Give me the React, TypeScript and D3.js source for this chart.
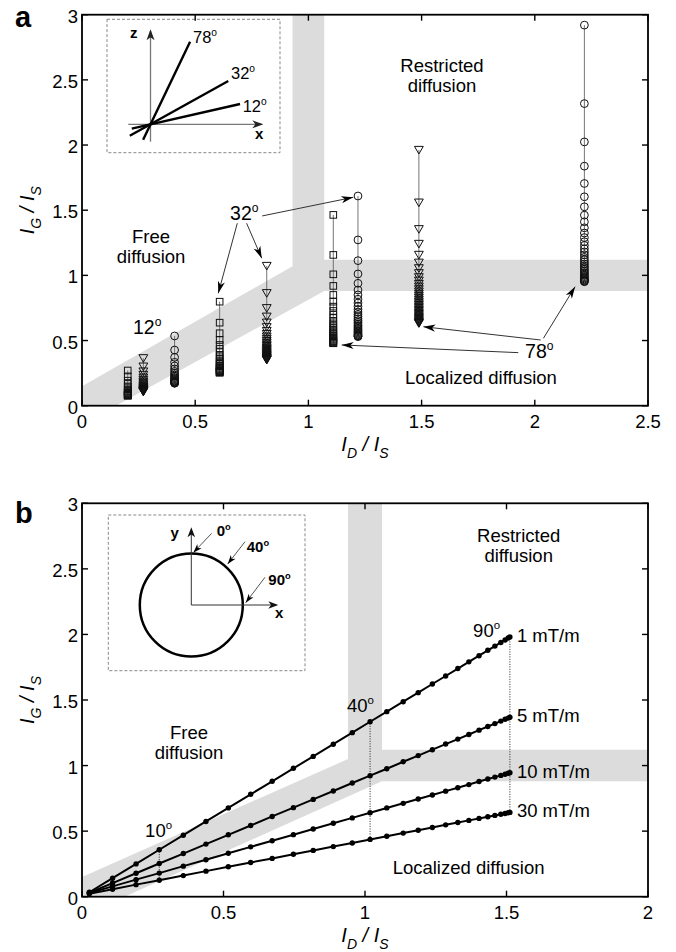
import React from 'react';
import * as d3 from 'd3';

const FONT = '"Liberation Sans", Arial, Helvetica, sans-serif';

// ---- shared ticks ----
const yTicks = [0, 0.5, 1, 1.5, 2, 2.5, 3];
const yTickLabels = ['0', '0.5', '1', '1.5', '2', '2.5', '3'];
const aTicksX = [0, 0.5, 1, 1.5, 2, 2.5];
const aTickLabelsX = ['0', '0.5', '1', '1.5', '2', '2.5'];
const bTicksX = [0, 0.5, 1, 1.5, 2];
const bTickLabelsX = ['0', '0.5', '1', '1.5', '2'];

// ---- panel a: columns of I_G/I_S values (top to bottom) at each I_D/I_S ----
const colX = [0.202, 0.271, 0.409, 0.608, 0.816, 1.11, 1.219, 1.488, 2.219];
const colMarker = ['square', 'triangle', 'circle', 'square', 'triangle', 'square', 'circle', 'triangle', 'circle'];
const col020 = [0.270, 0.225, 0.192, 0.167, 0.148, 0.133, 0.121, 0.112, 0.105, 0.099, 0.094, 0.090, 0.087, 0.084, 0.082, 0.080, 0.079, 0.078, 0.077];
const col027 = [0.364, 0.300, 0.262, 0.236, 0.215, 0.198, 0.184, 0.172, 0.162, 0.153, 0.145, 0.139, 0.133, 0.128, 0.124, 0.120, 0.117, 0.114, 0.112, 0.110, 0.108, 0.107];
const col041 = [0.535, 0.427, 0.371, 0.333, 0.305, 0.282, 0.263, 0.248, 0.235, 0.224, 0.215, 0.207, 0.200, 0.194, 0.189, 0.185, 0.181, 0.178, 0.176, 0.174, 0.172];
const col061 = [0.798, 0.637, 0.556, 0.504, 0.466, 0.436, 0.411, 0.390, 0.372, 0.356, 0.342, 0.330, 0.319, 0.309, 0.300, 0.292, 0.285, 0.279, 0.273, 0.268, 0.264, 0.260, 0.257, 0.255, 0.253];
const col082 = [1.072, 0.863, 0.748, 0.683, 0.637, 0.602, 0.573, 0.550, 0.530, 0.512, 0.496, 0.482, 0.469, 0.457, 0.446, 0.436, 0.427, 0.418, 0.410, 0.402, 0.395, 0.388, 0.382, 0.376, 0.370, 0.365, 0.360, 0.356, 0.353, 0.351];
const col111 = [1.464, 1.157, 1.008, 0.919, 0.850, 0.798, 0.760, 0.727, 0.698, 0.673, 0.651, 0.632, 0.615, 0.600, 0.586, 0.573, 0.561, 0.550, 0.540, 0.531, 0.522, 0.514, 0.507, 0.500, 0.494, 0.489, 0.484, 0.481, 0.479];
const col122 = [1.609, 1.272, 1.113, 1.011, 0.939, 0.888, 0.850, 0.817, 0.788, 0.762, 0.739, 0.719, 0.700, 0.683, 0.667, 0.653, 0.640, 0.627, 0.615, 0.604, 0.594, 0.584, 0.575, 0.566, 0.558, 0.550, 0.543, 0.537, 0.533, 0.530];
const col149 = [1.962, 1.558, 1.354, 1.241, 1.157, 1.097, 1.054, 1.016, 0.985, 0.959, 0.934, 0.913, 0.893, 0.875, 0.858, 0.842, 0.827, 0.812, 0.798, 0.785, 0.772, 0.760, 0.748, 0.736, 0.725, 0.714, 0.703, 0.693, 0.683, 0.673, 0.664, 0.655, 0.647, 0.640, 0.634, 0.632];
const col222 = [2.920, 2.318, 2.024, 1.838, 1.705, 1.603, 1.526, 1.462, 1.411, 1.365, 1.325, 1.290, 1.258, 1.230, 1.204, 1.180, 1.158, 1.138, 1.120, 1.103, 1.087, 1.072, 1.058, 1.045, 1.033, 1.021, 1.010, 1.000, 0.990, 0.981, 0.973, 0.966, 0.960, 0.955, 0.951];
const colValues = [col020, col027, col041, col061, col082, col111, col122, col149, col222];

// shaded boundary regions (data units)
const bandA = [[0, 0], [0, 0.15], [0.93, 1.07], [0.93, 3], [1.07, 3], [1.07, 1.12], [2.5, 1.12], [2.5, 0.88], [1.07, 0.88], [0.15, 0]];
const bandB = [[0, 0], [0, 0.15], [0.94, 1.05], [0.94, 3], [1.06, 3], [1.06, 1.12], [2, 1.12], [2, 0.88], [1.06, 0.88], [0.15, 0]];

// annotation arrows in panel a, [from, to] in data units
const arrowsA = [
  [[0.686, 1.400], [0.602, 0.863]],
  [[0.727, 1.400], [0.794, 1.131]],
  [[0.796, 1.456], [1.198, 1.599]],
  [[1.927, 0.407], [1.147, 0.466]],
  [[2.026, 0.504], [1.508, 0.606]],
  [[2.038, 0.517], [2.178, 0.913]],
];

// ---- panel b: I_D/I_S shared by all gradients, I_G/I_S per gradient ----
const bX = [0.026, 0.108, 0.191, 0.273, 0.358, 0.438, 0.517, 0.596, 0.672, 0.747, 0.817, 0.888, 0.955, 1.018, 1.077, 1.135, 1.188, 1.238, 1.285, 1.328, 1.367, 1.403, 1.434, 1.459, 1.480, 1.495, 1.506, 1.512];
const b1mT = [0.034, 0.141, 0.250, 0.358, 0.469, 0.574, 0.677, 0.781, 0.880, 0.979, 1.070, 1.163, 1.251, 1.334, 1.411, 1.487, 1.556, 1.622, 1.683, 1.740, 1.791, 1.838, 1.879, 1.911, 1.939, 1.958, 1.973, 1.981];
const b5mT = [0.030, 0.104, 0.179, 0.253, 0.329, 0.401, 0.472, 0.543, 0.612, 0.679, 0.742, 0.806, 0.867, 0.923, 0.976, 1.029, 1.076, 1.121, 1.164, 1.202, 1.237, 1.270, 1.298, 1.320, 1.339, 1.353, 1.362, 1.368];
const b10mT = [0.028, 0.079, 0.130, 0.180, 0.233, 0.282, 0.331, 0.380, 0.427, 0.473, 0.516, 0.560, 0.601, 0.640, 0.677, 0.712, 0.745, 0.776, 0.805, 0.831, 0.855, 0.878, 0.897, 0.912, 0.925, 0.934, 0.941, 0.945];
const b30mT = [0.023, 0.057, 0.092, 0.126, 0.161, 0.195, 0.228, 0.261, 0.292, 0.324, 0.353, 0.382, 0.410, 0.437, 0.461, 0.485, 0.507, 0.528, 0.548, 0.566, 0.582, 0.597, 0.610, 0.620, 0.629, 0.635, 0.640, 0.643];
const bSeries = [b1mT, b5mT, b10mT, b30mT];
const bSeriesNames = ['1 mT/m', '5 mT/m', '10 mT/m', '30 mT/m'];
const angleIdx = [3, 13, 27];

const xA = d3.scaleLinear().domain([0, 2.5]).range([82, 648]);
const yA = d3.scaleLinear().domain([0, 3]).range([405.7, 14.7]);
const xB = d3.scaleLinear().domain([0, 2]).range([82, 648]);
const yB = d3.scaleLinear().domain([0, 3]).range([896.7, 503.3]);

function arrowHead(fx, fy, tx, ty, L = 11, w = 3.5) {
  const d = Math.hypot(tx - fx, ty - fy);
  const ux = (tx - fx) / d, uy = (ty - fy) / d;
  const nx = -uy, ny = ux;
  const bx = tx - L * ux, by = ty - L * uy;
  const mx = tx - 0.72 * L * ux, my = ty - 0.72 * L * uy;
  return `M${tx},${ty}L${bx + w * nx},${by + w * ny}L${mx},${my}L${bx - w * nx},${by - w * ny}Z`;
}

function Arrow({ f, t, L = 11, w = 3.5, color = '#333', width = 1 }) {
  return (
    <g>
      <line x1={f[0]} y1={f[1]} x2={t[0]} y2={t[1]} stroke={color} strokeWidth={width} />
      <path d={arrowHead(f[0], f[1], t[0], t[1], L, w)} fill="#000" />
    </g>
  );
}

function Deg({ x, y, n, size = 18.5, bold = false }) {
  return (
    <text x={x} y={y} fontSize={size} fontWeight={bold ? 'bold' : 'normal'}>
      {n}
      <tspan dy={-size * 0.42} fontSize={size * 0.62}>o</tspan>
    </text>
  );
}

function Marker({ type, cx, cy }) {
  const st = { fill: 'none', stroke: '#111', strokeWidth: 1 };
  if (type === 'circle') return <circle cx={cx} cy={cy} r={3.9} {...st} />;
  if (type === 'square') return <rect x={cx - 3.3} y={cy - 3.3} width={6.6} height={6.6} {...st} />;
  return <path d={`M${cx - 4.4},${cy - 3.6}L${cx + 4.4},${cy - 3.6}L${cx},${cy + 4}Z`} {...st} />;
}

function Frame({ x, y, xTicks, xLabels }) {
  const [x0, x1] = x.range();
  const [y0, y1] = y.range();
  return (
    <g fontSize={18.5}>
      <rect x={x0} y={y1} width={x1 - x0} height={y0 - y1} fill="none" stroke="#000" strokeWidth={1.8} />
      {xTicks.map((t, i) => (
        <g key={'x' + i}>
          <line x1={x(t)} x2={x(t)} y1={y0} y2={y0 - 6} stroke="#000" strokeWidth={1.4} />
          <line x1={x(t)} x2={x(t)} y1={y1} y2={y1 + 6} stroke="#000" strokeWidth={1.4} />
          <text x={x(t)} y={y0 + 22} textAnchor="middle">{xLabels[i]}</text>
        </g>
      ))}
      {yTicks.map((t, i) => (
        <g key={'y' + i}>
          <line x1={x0} x2={x0 + 6} y1={y(t)} y2={y(t)} stroke="#000" strokeWidth={1.4} />
          <line x1={x1} x2={x1 - 6} y1={y(t)} y2={y(t)} stroke="#000" strokeWidth={1.4} />
          <text x={x0 - 4} y={y(t) + 8} textAnchor="end">{yTickLabels[i]}</text>
        </g>
      ))}
    </g>
  );
}

function Titles({ x, y, panel, labelY }) {
  const [x0, x1] = x.range();
  const [y0, y1] = y.range();
  const cy = (y0 + y1) / 2;
  return (
    <g style={{ whiteSpace: 'pre' }}>
      <text x={15} y={labelY} fontSize={29} fontWeight="bold">{panel}</text>
      <text x={(x0 + x1) / 2} y={y0 + 45} textAnchor="middle" fontSize={20} fontStyle="italic">
        I<tspan dy={7} fontSize={14}>D</tspan><tspan dy={-7}> / I</tspan><tspan dy={7} fontSize={14}>S</tspan>
      </text>
      <text transform={`translate(34,${cy}) rotate(-90)`} textAnchor="middle" fontSize={20} fontStyle="italic">
        I<tspan dy={7} fontSize={14}>G</tspan><tspan dy={-7}> / I</tspan><tspan dy={7} fontSize={14}>S</tspan>
      </text>
    </g>
  );
}

function TwoLines({ x, y, a, b }) {
  return (
    <text x={x} y={y} textAnchor="middle" fontSize={18.5}>
      <tspan x={x}>{a}</tspan>
      <tspan x={x} dy={20.5}>{b}</tspan>
    </text>
  );
}

function InsetA() {
  const o = [150.5, 124.3];
  const rays = [
    { a: 64.4, len: 91.6, tail: 17.1 },
    { a: 29.1, len: 89, tail: 23.7 },
    { a: 12.8, len: 91.8, tail: 19.2 },
  ];
  return (
    <g>
      <rect x={107} y={19.3} width={173} height={133.4} fill="#fff" stroke="#888" strokeWidth={1} strokeDasharray="3,2" />
      <line x1={128.3} y1={o[1]} x2={262} y2={o[1]} stroke="#777" strokeWidth={1.3} />
      <path d={arrowHead(128.3, o[1], 263.3, o[1], 11, 4)} fill="#222" />
      <line x1={o[0]} y1={141.7} x2={o[0]} y2={31} stroke="#777" strokeWidth={1.3} />
      <path d={arrowHead(o[0], 141.7, o[0], 29.3, 11, 4)} fill="#222" />
      {rays.map((r, i) => {
        const c = Math.cos((r.a * Math.PI) / 180), s = Math.sin((r.a * Math.PI) / 180);
        return <line key={i} x1={o[0] - r.tail * c} y1={o[1] + r.tail * s} x2={o[0] + r.len * c} y2={o[1] - r.len * s} stroke="#000" strokeWidth={2.4} />;
      })}
      <text x={130} y={38} fontSize={15} fontWeight="bold">z</text>
      <text x={255} y={139.3} fontSize={15} fontWeight="bold">x</text>
      <Deg x={193} y={43} n="78" size={16.5} />
      <Deg x={231} y={79} n="32" size={16.5} />
      <Deg x={242.7} y={111.7} n="12" size={16.5} />
    </g>
  );
}

function InsetB() {
  const c = [191.3, 605];
  return (
    <g>
      <rect x={108.3} y={515} width={196.7} height={155.7} fill="#fff" stroke="#888" strokeWidth={1} strokeDasharray="3,2" />
      <circle cx={c[0]} cy={c[1]} r={51.5} fill="none" stroke="#000" strokeWidth={2.5} />
      <line x1={c[0]} y1={c[1]} x2={c[0]} y2={530} stroke="#333" strokeWidth={1} />
      <path d={arrowHead(c[0], c[1], c[0], 527.3, 10, 3.8)} fill="#111" />
      <line x1={c[0]} y1={c[1]} x2={275} y2={c[1]} stroke="#333" strokeWidth={1} />
      <path d={arrowHead(c[0], c[1], 278.3, c[1], 10, 3.8)} fill="#111" />
      <Arrow f={[211.7, 533.3]} t={[193.3, 552.7]} L={9} w={3} color="#555" />
      <Arrow f={[245, 541.7]} t={[227.7, 564]} L={9} w={3} color="#555" />
      <Arrow f={[265, 577.3]} t={[245.7, 602.7]} L={9} w={3} color="#555" />
      <text x={170.5} y={538} fontSize={15} fontWeight="bold">y</text>
      <text x={275} y={618} fontSize={15} fontWeight="bold">x</text>
      <Deg x={216.7} y={536} n="0" size={15} bold />
      <Deg x={246.7} y={552} n="40" size={15} bold />
      <Deg x={268.3} y={585} n="90" size={15} bold />
    </g>
  );
}

function PanelA() {
  const band = d3.line().x((d) => xA(d[0])).y((d) => yA(d[1]))(bandA) + 'Z';
  return (
    <g>
      <path d={band} fill="#dcdcdc" />
      {colX.map((cx, i) => {
        const vals = colValues[i];
        return (
          <g key={i}>
            <line x1={xA(cx)} x2={xA(cx)} y1={yA(d3.max(vals))} y2={yA(d3.min(vals))} stroke="#666" strokeWidth={0.9} />
            {vals.map((v, j) => <Marker key={j} type={colMarker[i]} cx={xA(cx)} cy={yA(v)} />)}
          </g>
        );
      })}
      {arrowsA.map((a, i) => (
        <Arrow key={i} f={[xA(a[0][0]), yA(a[0][1])]} t={[xA(a[1][0]), yA(a[1][1])]} L={12} w={3.6} />
      ))}
      <InsetA />
      <TwoLines x={xA(1.59)} y={yA(2.563)} a="Restricted" b="diffusion" />
      <TwoLines x={xA(0.305)} y={yA(1.249)} a="Free" b="diffusion" />
      <text x={xA(1.762)} y={yA(0.167)} textAnchor="middle" fontSize={18.5}>Localized diffusion</text>
      <Deg x={xA(0.654)} y={yA(1.425)} n="32" size={19.5} />
      <Deg x={xA(0.225)} y={yA(0.55)} n="12" size={19.5} />
      <Deg x={xA(1.957)} y={yA(0.366)} n="78" size={19.5} />
      <Frame x={xA} y={yA} xTicks={aTicksX} xLabels={aTickLabelsX} />
      <Titles x={xA} y={yA} panel="a" labelY={27} />
    </g>
  );
}

function PanelB() {
  const band = d3.line().x((d) => xB(d[0])).y((d) => yB(d[1]))(bandB) + 'Z';
  const line = d3.line().x((d, i) => xB(bX[i])).y((d) => yB(d));
  const last = bX.length - 1;
  return (
    <g>
      <path d={band} fill="#dcdcdc" />
      {angleIdx.map((k) => (
        <line key={k} x1={xB(bX[k])} x2={xB(bX[k])} y1={yB(b30mT[k])} y2={yB(b1mT[k])} stroke="#222" strokeWidth={1} strokeDasharray="1,1.5" />
      ))}
      {bSeries.map((s, i) => (
        <g key={i}>
          <path d={line(s)} fill="none" stroke="#000" strokeWidth={2} />
          {s.map((v, j) => <circle key={j} cx={xB(bX[j])} cy={yB(v)} r={2.7} fill="#000" />)}
          <text x={xB(bX[last]) + 7} y={yB(s[last]) + 5} fontSize={18.5}>{bSeriesNames[i]}</text>
        </g>
      ))}
      <InsetB />
      <TwoLines x={xB(1.543)} y={yB(2.708)} a="Restricted" b="diffusion" />
      <TwoLines x={xB(0.378)} y={yB(1.203)} a="Free" b="diffusion" />
      <text x={xB(1.366)} y={yB(0.173)} textAnchor="middle" fontSize={18.5}>Localized diffusion</text>
      <Deg x={xB(0.223)} y={yB(0.455)} n="10" size={18.5} />
      <Deg x={xB(0.936)} y={yB(1.409)} n="40" size={18.5} />
      <Deg x={xB(1.382)} y={yB(1.981)} n="90" size={18.5} />
      <Frame x={xB} y={yB} xTicks={bTicksX} xLabels={bTickLabelsX} />
      <Titles x={xB} y={yB} panel="b" labelY={523} />
    </g>
  );
}

export default function App() {
  return (
    <svg width={676} height={952} style={{ position: 'absolute', left: 0, top: 0, background: '#fff' }} fontFamily={FONT}>
      <rect width={676} height={952} fill="#fff" />
      <PanelA />
      <PanelB />
    </svg>
  );
}
